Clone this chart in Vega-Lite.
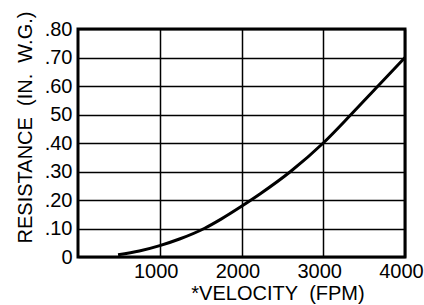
{
  "$schema": "https://vega.github.io/schema/vega-lite/v6.json",
  "width": 327,
  "height": 228,
  "autosize": {"type": "none"},
  "padding": {"left": 78, "top": 29, "right": 19, "bottom": 48},
  "background": "white",
  "config": {
    "view": {"stroke": "black", "strokeWidth": 3},
    "font": "Liberation Sans"
  },
  "data": {
    "values": [
      {"velocity": 490, "resistance": 0.008},
      {"velocity": 750, "resistance": 0.021},
      {"velocity": 1000, "resistance": 0.040},
      {"velocity": 1250, "resistance": 0.064},
      {"velocity": 1550, "resistance": 0.101},
      {"velocity": 1750, "resistance": 0.133},
      {"velocity": 2000, "resistance": 0.178},
      {"velocity": 2230, "resistance": 0.222},
      {"velocity": 2600, "resistance": 0.30},
      {"velocity": 3000, "resistance": 0.40},
      {"velocity": 3340, "resistance": 0.50},
      {"velocity": 3670, "resistance": 0.60},
      {"velocity": 4000, "resistance": 0.70}
    ]
  },
  "mark": {"type": "line", "color": "black", "strokeWidth": 3, "interpolate": "monotone"},
  "encoding": {
    "x": {
      "field": "velocity",
      "type": "quantitative",
      "scale": {"domain": [0, 4000], "nice": false},
      "axis": {
        "values": [1000, 2000, 3000, 4000],
        "format": "d",
        "title": "*VELOCITY\u00a0\u00a0(FPM)",
        "titleFont": "Liberation Sans",
        "titleFontSize": 20,
        "titleFontWeight": "normal",
        "titleColor": "black",
        "titleX": 199.5,
        "titleY": 42,
        "titleAlign": "center",
        "titleBaseline": "alphabetic",
        "labelFont": "Liberation Sans",
        "labelFontSize": 20,
        "labelColor": "black",
        "labelPadding": 4,
        "labelOffset": -4,
        "labelBaseline": "top",
        "labelFlush": false,
        "labelOverlap": false,
        "ticks": false,
        "domain": false,
        "grid": true,
        "gridColor": "black",
        "gridWidth": 1.5,
        "gridOpacity": 1
      }
    },
    "y": {
      "field": "resistance",
      "type": "quantitative",
      "scale": {"domain": [0, 0.8], "nice": false},
      "axis": {
        "values": [0, 0.1, 0.2, 0.3, 0.4, 0.5, 0.6, 0.7, 0.8],
        "labelExpr": "datum.value == 0 ? '0' : (datum.value == 0.5 ? '50' : replace(format(datum.value, '.2f'), '0.', '.'))",
        "title": "RESISTANCE\u00a0\u00a0(IN.\u00a0\u00a0W.G.)",
        "titleFont": "Liberation Sans",
        "titleFontSize": 20,
        "titleFontWeight": "normal",
        "titleColor": "black",
        "titleAngle": -90,
        "titleX": -53,
        "titleY": 98,
        "titleAlign": "center",
        "titleBaseline": "middle",
        "labelFont": "Liberation Sans",
        "labelFontSize": 20,
        "labelColor": "black",
        "labelPadding": 6,
        "labelFlush": false,
        "labelOverlap": false,
        "ticks": false,
        "domain": false,
        "grid": true,
        "gridColor": "black",
        "gridWidth": 1.5,
        "gridOpacity": 1
      }
    }
  }
}
